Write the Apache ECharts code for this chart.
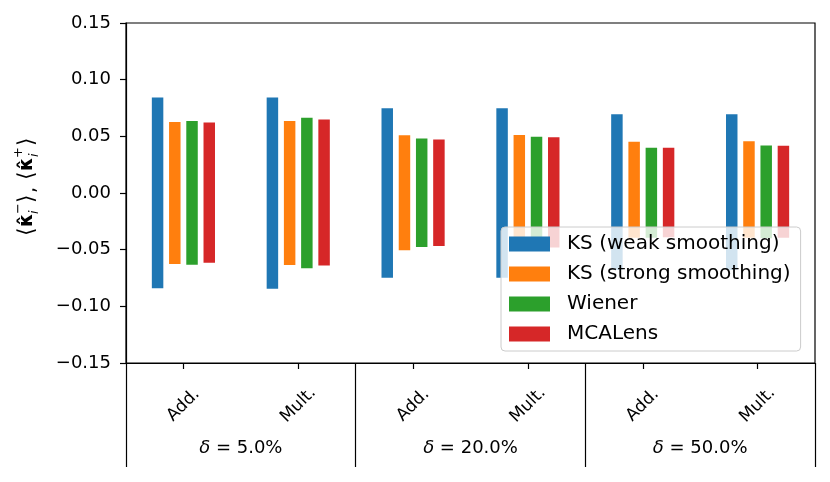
<!DOCTYPE html>
<html>
<head>
<meta charset="utf-8">
<script src="https://cdn.jsdelivr.net/npm/echarts@6/dist/echarts.min.js"></script>
<style>
  html, body { margin: 0; padding: 0; background: #fff; }
  #chart { width: 830px; height: 482px; }
</style>
</head>
<body>
<div id="chart"></div>
<script>
// ---- Data ----
const categories = ['Add.', 'Mult.', 'Add.', 'Mult.', 'Add.', 'Mult.'];
const groupLabels = ['5.0%', '20.0%', '50.0%'];
const seriesNames = ['KS (weak smoothing)', 'KS (strong smoothing)', 'Wiener', 'MCALens'];
const seriesColors = ['#1f77b4', '#ff7f0e', '#2ca02c', '#d62728'];

// upper values <kappa_i^+>
const weakUpper    = [0.0843, 0.0843, 0.0748, 0.0748, 0.0695, 0.0695];
const strongUpper  = [0.0627, 0.0635, 0.0509, 0.0512, 0.0453, 0.0456];
const wienerUpper  = [0.0635, 0.0665, 0.0480, 0.0497, 0.0400, 0.0420];
const mcalensUpper = [0.0621, 0.0648, 0.0473, 0.0491, 0.0400, 0.0418];
// lower values <kappa_i^->
const weakLower    = [-0.0840, -0.0845, -0.0748, -0.0748, -0.0680, -0.0680];
const strongLower  = [-0.0627, -0.0636, -0.0506, -0.0500, -0.0394, -0.0394];
const wienerLower  = [-0.0633, -0.0665, -0.0476, -0.0470, -0.0394, -0.0400];
const mcalensLower = [-0.0615, -0.0639, -0.0467, -0.0480, -0.0390, -0.0394];

const yTicks = { min: -0.15, max: 0.15, interval: 0.05 };

const uppers = [weakUpper, strongUpper, wienerUpper, mcalensUpper];
const lowers = [weakLower, strongLower, wienerLower, mcalensLower];
const offsets = [-0.225, -0.075, 0.075, 0.225];
const barFrac = 0.1;

const FONT = 'DejaVu Sans';

const chart = echarts.init(document.getElementById('chart'), null, { renderer: 'canvas' });

function makeRender(si) {
  return function (params, api) {
    const c = api.value(0);
    const lo = api.value(1), hi = api.value(2);
    const band = api.size([1, 0])[0];
    const cx = api.coord([c, 0])[0] + offsets[si] * band;
    const w = barFrac * band;
    const yTop = api.coord([c, hi])[1];
    const yBot = api.coord([c, lo])[1];
    return {
      type: 'rect',
      shape: { x: cx - w / 2, y: yTop, width: w, height: yBot - yTop },
      style: { fill: seriesColors[si] }
    };
  };
}

const series = seriesNames.map((name, si) => ({
  name: name,
  type: 'custom',
  xAxisIndex: 0,
  yAxisIndex: 0,
  itemStyle: { color: seriesColors[si] },
  renderItem: makeRender(si),
  encode: { x: 0, y: [1, 2] },
  data: categories.map((c, i) => [i, lowers[si][i], uppers[si][i]]),
  z: 2
}));

// y-axis label pieces (rotated)
const lab = [];
function piece(text, x, y, size, extra) {
  lab.push({
    type: 'text', x: x, y: y,
    style: Object.assign({
      text: text, fontFamily: FONT, fontSize: size, fill: '#000',
      textAlign: 'left', textVerticalAlign: 'middle'
    }, extra || {})
  });
}
piece('\u27E8', -51, 0, 22);
piece('\u03BA\u0302', -42, 0, 19, { fontWeight: 'bold' });
piece('\u2212', -29, -8, 13);
piece('i', -29, 8, 13, { fontStyle: 'italic' });
piece('\u27E9', -18, 0, 22);
piece(',', -8, 3, 19);
piece('\u27E8', 5, 0, 22);
piece('\u03BA\u0302', 14, 0, 19, { fontWeight: 'bold' });
piece('+', 27, -8, 13);
piece('i', 28, 8, 13, { fontStyle: 'italic' });
piece('\u27E9', 39, 0, 22);

const option = {
  animation: false,
  backgroundColor: '#ffffff',
  textStyle: { fontFamily: FONT },
  grid: {
    left: 126, right: 15, top: 23, bottom: 119,
    show: true, borderColor: '#000', borderWidth: 1.2, backgroundColor: 'transparent'
  },
  legend: {
    data: seriesNames,
    orient: 'vertical',
    left: 501, top: 227,
    icon: 'rect',
    itemWidth: 41, itemHeight: 15, itemGap: 10,
    padding: [7, 10, 7, 8],
    backgroundColor: 'rgba(255,255,255,0.8)',
    borderColor: '#cccccc', borderWidth: 1, borderRadius: 4,
    textStyle: { fontFamily: FONT, fontSize: 20, color: '#000', lineHeight: 20, padding: [0, 0, 0, 12] },
    selectedMode: false,
    z: 10
  },
  xAxis: [
    {
      type: 'category',
      data: categories,
      position: 'bottom',
      boundaryGap: true,
      axisLine: { show: true, onZero: false, lineStyle: { color: '#000', width: 1.2 } },
      axisTick: { show: true, alignWithLabel: true, length: 6, lineStyle: { color: '#000', width: 1.2 } },
      axisLabel: {
        interval: 0, rotate: 45, margin: 42, align: 'center', verticalAlign: 'middle',
        fontFamily: FONT, fontSize: 17, color: '#000'
      },
      splitLine: { show: false }
    },
    {
      type: 'category',
      data: groupLabels,
      position: 'bottom',
      boundaryGap: true,
      axisLine: { show: false, onZero: false },
      axisTick: { show: true, alignWithLabel: false, interval: 0, length: 104, lineStyle: { color: '#000', width: 1.2 } },
      axisLabel: {
        interval: 0, margin: 85, verticalAlign: 'middle',
        fontFamily: FONT, fontSize: 18, color: '#000',
        formatter: v => '{d|\u03B4} = ' + v,
        rich: { d: { fontFamily: FONT, fontStyle: 'italic', fontSize: 18, color: '#000' } }
      },
      splitLine: { show: false }
    }
  ],
  yAxis: {
    type: 'value',
    min: yTicks.min, max: yTicks.max, interval: yTicks.interval,
    axisLine: { show: true, lineStyle: { color: '#000', width: 1.2 } },
    axisTick: { show: true, length: 6, lineStyle: { color: '#000', width: 1.2 } },
    axisLabel: {
      margin: 15, fontFamily: FONT, fontSize: 18, color: '#000',
      formatter: v => {
        const r = Math.round(v * 100) / 100;
        return (r < 0 ? '\u2212' : '') + Math.abs(r).toFixed(2);
      }
    },
    splitLine: { show: false }
  },
  graphic: [
    { type: 'group', x: 27, y: 185, rotation: Math.PI / 2, children: lab }
  ],
  series: series
};

chart.setOption(option);
</script>
</body>
</html>
